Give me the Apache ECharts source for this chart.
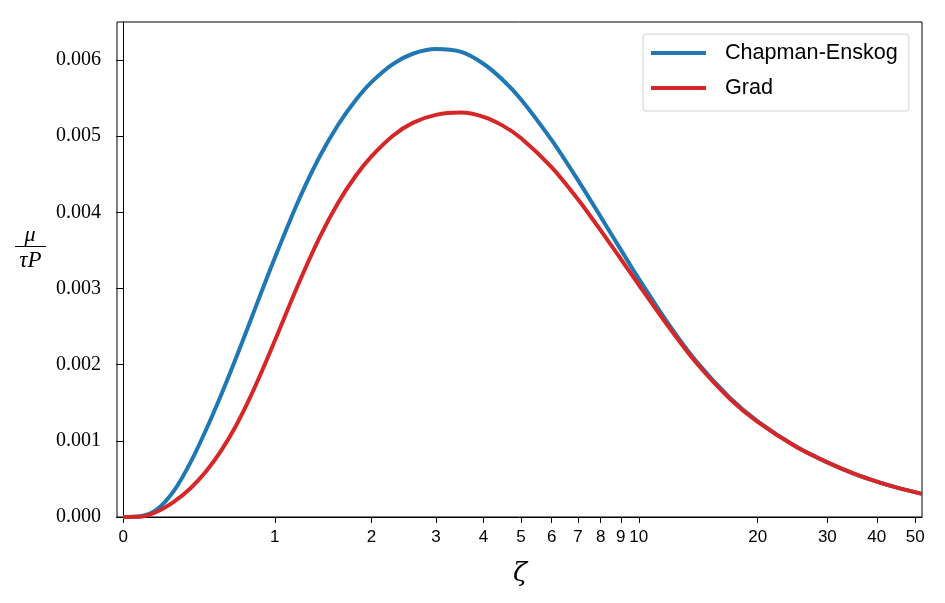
<!DOCTYPE html>
<html>
<head>
<meta charset="utf-8">
<script src="https://cdn.jsdelivr.net/npm/echarts@6/dist/echarts.min.js"></script>
<style>
  html, body { margin: 0; padding: 0; background: #fff; }
  #chart { width: 945px; height: 603px; }
</style>
</head>
<body>
<div id="chart"></div>
<script>
// zeta values (x axis is drawn on an asinh scale)
const zeta = [0, 0.1, 0.2, 0.3, 0.4, 0.5, 0.6, 0.7, 0.8, 0.9, 1.0, 1.2, 1.4, 1.6, 1.8, 2.0, 2.3, 2.6,
  3.0, 3.5, 4.0, 4.5, 5, 6, 7, 8, 9, 10, 12, 14, 17, 20, 25, 30, 35, 40, 45, 52]
const chapmanEnskog = [0, 0.00001, 0.000104, 0.000346, 0.000711, 0.001143, 0.0016, 0.002068, 0.002535, 0.002983,
  0.003402, 0.004137, 0.004714, 0.005148, 0.00547, 0.00571, 0.00595, 0.006083, 0.006145, 0.006107, 0.005952,
  0.005735, 0.005487, 0.004948, 0.004424, 0.003943, 0.003511, 0.003129, 0.002505, 0.002041, 0.001568, 0.001257,
  0.000925, 0.000718, 0.00057, 0.000465, 0.000386, 0.000304]
const grad = [0, 0.000002, 0.000072, 0.000202, 0.000375, 0.000598, 0.000868, 0.001185, 0.001544, 0.001927,
  0.002314, 0.003044, 0.003653, 0.004123, 0.004474, 0.004735, 0.00501, 0.005176, 0.00528, 0.00531, 0.005254,
  0.005136, 0.004977, 0.004592, 0.004173, 0.003764, 0.003388, 0.00305, 0.002473, 0.002022, 0.001553, 0.001248,
  0.000923, 0.000718, 0.00057, 0.000465, 0.000386, 0.000304]
const xTicks = [0, 1, 2, 3, 4, 5, 6, 7, 8, 9, 10, 20, 30, 40, 50]
const yTicks = [0, 0.001, 0.002, 0.003, 0.004, 0.005, 0.006]

const toPoints = (ys) => zeta.map((z, i) => [Math.asinh(z), ys[i]])
const xTickPos = xTicks.map(v => Math.asinh(v))

const chart = echarts.init(document.getElementById('chart'))
chart.setOption({
  animation: false,
  backgroundColor: '#fff',
  grid: {
    left: 117,
    right: 23,
    top: 22,
    bottom: 86,
    show: true,
    borderColor: '#000',
    borderWidth: 1,
    backgroundColor: '#fff'
  },
  xAxis: {
    type: 'value',
    min: -0.036,
    max: 4.645,
    axisLine: { onZero: false, lineStyle: { color: '#000', width: 1 } },
    axisTick: { customValues: xTickPos, length: 6, lineStyle: { color: '#000' } },
    axisLabel: {
      customValues: xTickPos,
      margin: 12,
      color: '#000',
      fontFamily: 'Liberation Sans',
      fontSize: 17,
      formatter: (v) => String(Math.round(Math.sinh(v)))
    },
    splitLine: { show: false }
  },
  yAxis: {
    type: 'value',
    min: 0,
    max: 0.0065,
    axisLine: { show: true, lineStyle: { color: '#000', width: 1 } },
    axisTick: { show: true, customValues: yTicks, length: 7, lineStyle: { color: '#000' } },
    axisLabel: {
      customValues: yTicks,
      margin: 16,
      color: '#000',
      fontFamily: 'Liberation Serif',
      fontSize: 20,
      formatter: (v) => v.toFixed(3)
    },
    splitLine: { show: false }
  },
  legend: {
    orient: 'vertical',
    left: 643,
    top: 34,
    padding: [8, 11, 12, 8],
    itemWidth: 55,
    itemHeight: 4,
    itemGap: 13,
    icon: 'rect',
    backgroundColor: '#fff',
    borderColor: '#d0d0d0',
    borderWidth: 1,
    borderRadius: 3,
    textStyle: { fontFamily: 'Liberation Sans', fontSize: 21.6, color: '#000', padding: [0, 0, 0, 14] },
    data: ['Chapman-Enskog', 'Grad']
  },
  graphic: [
    { type: 'text', left: 513, top: 561, style: { text: 'ζ', font: 'italic 26px "DejaVu Serif"', fill: '#000' } },
    { type: 'text', x: 30, y: 224, style: { text: 'μ', font: 'italic 22px "Liberation Serif"', fill: '#000', textAlign: 'center' } },
    { type: 'line', shape: { x1: 15, y1: 246.5, x2: 46, y2: 246.5 }, style: { stroke: '#000', lineWidth: 1 } },
    { type: 'text', x: 30.5, y: 249, style: { text: 'τP', font: 'italic 23px "Liberation Serif"', fill: '#000', textAlign: 'center' } }
  ],
  series: [
    {
      name: 'Chapman-Enskog',
      type: 'line',
      data: toPoints(chapmanEnskog),
      showSymbol: false,
      smooth: 0.3,
      color: '#1f77b4',
      lineStyle: { width: 4, color: '#1f77b4' }
    },
    {
      name: 'Grad',
      type: 'line',
      data: toPoints(grad),
      showSymbol: false,
      smooth: 0.3,
      color: '#d62728',
      lineStyle: { width: 4, color: '#d62728' }
    }
  ]
})
</script>
</body>
</html>
